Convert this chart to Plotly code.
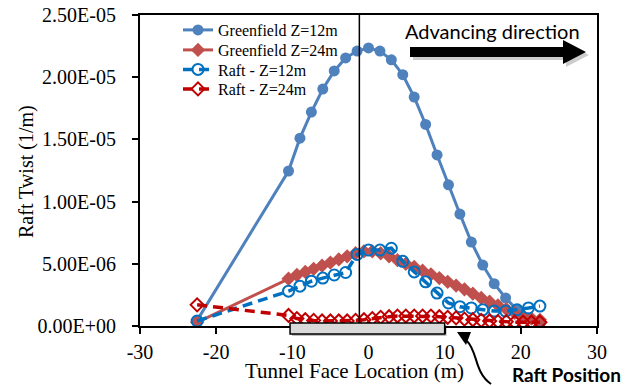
import plotly.graph_objects as go

# ---------------- data ----------------
gf12_x = [-22.5, -10.5, -9, -7.5, -6, -4.5, -3, -1.5, 0, 1.5, 3, 4.5, 6, 7.5, 9,
          10.5, 12, 13.5, 15, 16.5, 18, 19.5, 21, 22.5]
gf12_y = [0.45e-6, 12.46e-6, 15.1e-6, 17.2e-6, 19.05e-6, 20.5e-6, 21.55e-6, 22.1e-6,
          22.35e-6, 22.1e-6, 21.4e-6, 20.2e-6, 18.4e-6, 16.2e-6, 13.75e-6, 11.35e-6,
          9.0e-6, 6.75e-6, 4.9e-6, 3.4e-6, 2.25e-6, 1.3e-6, 0.65e-6, 0.15e-6]

gf24_x = [-22.5, -10.5, -9.4, -8.3, -7.2, -6.1, -5.0, -3.9, -2.8, -1.7, -0.6, 0.5,
          1.6, 2.7, 3.8, 4.9, 6.0, 7.1, 8.2, 9.3, 10.4, 11.5, 12.6, 13.7, 14.8, 15.9,
          17.0, 18.1, 19.2, 20.3, 21.4, 22.5]
gf24_y = [0.3e-6, 3.8e-6, 4.1e-6, 4.35e-6, 4.6e-6, 4.85e-6, 5.1e-6, 5.35e-6, 5.6e-6,
          5.85e-6, 6.0e-6, 6.0e-6, 5.85e-6, 5.6e-6, 5.3e-6, 5.0e-6, 4.75e-6, 4.45e-6,
          4.15e-6, 3.85e-6, 3.55e-6, 3.25e-6, 2.95e-6, 2.6e-6, 2.25e-6, 1.95e-6,
          1.65e-6, 1.35e-6, 1.05e-6, 0.8e-6, 0.6e-6, 0.5e-6]

raft12_x = [-22.5, -10.5, -9, -7.5, -6, -4.5, -3, -1.5, 0, 1.5, 3, 4.5, 6, 7.5, 9,
            10.5, 12, 13.5, 15, 16.5, 18, 19.5, 21, 22.5]
raft12_y = [0.4e-6, 2.8e-6, 3.2e-6, 3.6e-6, 3.85e-6, 4.1e-6, 4.3e-6, 5.75e-6, 6.1e-6,
            6.1e-6, 6.25e-6, 5.2e-6, 4.35e-6, 3.55e-6, 2.65e-6, 1.85e-6, 1.55e-6,
            1.45e-6, 1.3e-6, 1.2e-6, 1.2e-6, 1.3e-6, 1.45e-6, 1.6e-6]

raft24_x = [-22.5, -10.5, -9.4, -8.3, -7.2, -6.1, -5.0, -3.9, -2.8, -1.7, -0.6, 0.5,
            1.6, 2.7, 3.8, 4.9, 6.0, 7.1, 8.2, 9.3, 10.4, 11.5, 12.6, 13.7, 14.8, 15.9,
            17.0, 18.1, 19.2, 20.3, 21.4, 22.5]
raft24_y = [1.7e-6, 0.85e-6, 0.6e-6, 0.5e-6, 0.45e-6, 0.4e-6, 0.4e-6, 0.4e-6, 0.4e-6,
            0.45e-6, 0.5e-6, 0.6e-6, 0.7e-6, 0.75e-6, 0.8e-6, 0.8e-6, 0.8e-6, 0.8e-6,
            0.8e-6, 0.75e-6, 0.7e-6, 0.65e-6, 0.55e-6, 0.5e-6, 0.45e-6, 0.4e-6,
            0.35e-6, 0.35e-6, 0.3e-6, 0.3e-6, 0.3e-6, 0.3e-6]

series_names = ["Greenfield Z=12m", "Greenfield Z=24m", "Raft - Z=12m", "Raft - Z=24m"]

x_ticks = [-30, -20, -10, 0, 10, 20, 30]
x_tick_text = ["-30", "-20", "-10", "0", "10", "20", "30"]
y_ticks = [0, 5e-6, 1e-5, 1.5e-5, 2e-5, 2.5e-5]
y_tick_text = ["0.00E+00", "5.00E-06", "1.00E-05", "1.50E-05", "2.00E-05", "2.50E-05"]

face_line_x = -1.2          # vertical reference line
raft_span = [-10.3, 10.0]   # raft position bar (m)

# ---------------- layout geometry ----------------
W, H = 634, 386
L, R, T, B = 140, 37, 15, 60
PW, PH = W - L - R, H - T - B


def px(xp):
    return (xp - L) / PW


def py(yp):
    return (H - B - yp) / PH


SERIF = "Liberation Serif, Times New Roman, serif"
SANS = "Lato, Open Sans, sans-serif"

fig = go.Figure()
fig.add_trace(go.Scatter(
    x=gf12_x, y=gf12_y, name=series_names[0], mode="lines+markers", legend="legend",
    line=dict(color="#4F81BD", width=3),
    marker=dict(symbol="circle", size=11, color="#4F81BD")))
fig.add_trace(go.Scatter(
    x=gf24_x, y=gf24_y, name=series_names[1], mode="lines+markers", legend="legend2",
    line=dict(color="#C0504D", width=3),
    marker=dict(symbol="diamond", size=11, color="#C0504D")))
fig.add_trace(go.Scatter(
    x=raft12_x, y=raft12_y, name=series_names[2], mode="lines+markers", legend="legend3",
    line=dict(color="#0070C0", width=3.5, dash="10px,6px"),
    marker=dict(symbol="circle-open", size=11, color="#0070C0",
                line=dict(width=2, color="#0070C0"))))
fig.add_trace(go.Scatter(
    x=raft24_x, y=raft24_y, name=series_names[3], mode="lines+markers", legend="legend4",
    line=dict(color="#C00000", width=3.5, dash="10px,6px"),
    marker=dict(symbol="diamond-open", size=10, color="#C00000",
                line=dict(width=2, color="#C00000"))))

shapes = []
# vertical line at the tunnel face
shapes.append(dict(type="line", xref="x", yref="paper", x0=face_line_x, x1=face_line_x,
                   y0=0, y1=1, line=dict(color="black", width=1.5), layer="above"))

# raft position bar (shadow + bar)
rx0 = (raft_span[0] + 30) / 60
rx1 = (raft_span[1] + 30) / 60
shapes.append(dict(type="rect", xref="paper", yref="paper",
                   x0=rx0 + 2 / PW, x1=rx1 + 2 / PW, y0=py(336), y1=py(325),
                   fillcolor="rgba(0,0,0,0.25)", line=dict(width=0), layer="above"))
shapes.append(dict(type="rect", xref="paper", yref="paper",
                   x0=rx0, x1=rx1, y0=py(334), y1=py(323),
                   fillcolor="#D9D9D9", line=dict(color="black", width=1.5), layer="above"))


def path(pts):
    s = "M {:.4f},{:.4f}".format(px(pts[0][0]), py(pts[0][1]))
    for p in pts[1:]:
        s += " L {:.4f},{:.4f}".format(px(p[0]), py(p[1]))
    return s + " Z"


arrow_pts = [(410, 47), (563, 47), (563, 40), (586, 52), (563, 64), (563, 57), (410, 57)]
shadow_pts = [(x + 3, y + 3) for x, y in arrow_pts]
shapes.append(dict(type="path", xref="paper", yref="paper", path=path(shadow_pts),
                   fillcolor="rgba(0,0,0,0.2)", line=dict(width=0), layer="above"))
shapes.append(dict(type="path", xref="paper", yref="paper", path=path(arrow_pts),
                   fillcolor="black", line=dict(width=0), layer="above"))

# curved arrow pointing to the raft bar
curve = "M {:.4f},{:.4f} C {:.4f},{:.4f} {:.4f},{:.4f} {:.4f},{:.4f}".format(
    px(491), py(384), px(474), py(372), px(478), py(352), px(467), py(341))
shapes.append(dict(type="path", xref="paper", yref="paper", path=curve,
                   line=dict(color="black", width=2), layer="above"))
head = [(457, 332), (471, 332), (466, 345)]
shapes.append(dict(type="path", xref="paper", yref="paper", path=path(head),
                   fillcolor="black", line=dict(width=0), layer="above"))

annotations = [
    dict(text="Tunnel Face Location (m)", xref="paper", yref="paper",
         x=px(354), y=py(371), xanchor="center", yanchor="middle", showarrow=False,
         font=dict(family=SERIF, size=21, color="black")),
    dict(text="Raft Twist (1/m)", xref="paper", yref="paper",
         x=px(26), y=py(172), xanchor="center", yanchor="middle", showarrow=False,
         textangle=-90, font=dict(family=SERIF, size=20, color="black")),
    dict(text="Advancing direction", xref="paper", yref="paper",
         x=px(492), y=py(31), xanchor="center", yanchor="middle", showarrow=False,
         font=dict(family=SANS, size=20, color="black")),
    dict(text="<b>Raft Position</b>", xref="paper", yref="paper",
         x=px(566), y=py(374), xanchor="center", yanchor="middle", showarrow=False,
         font=dict(family=SANS, size=19, color="black")),
]


def legend_box(yc):
    return dict(x=px(178), y=py(yc), xanchor="left", yanchor="middle",
                bgcolor="rgba(0,0,0,0)", borderwidth=0, tracegroupgap=0,
                font=dict(family=SERIF, size=16, color="black"), itemwidth=30)


fig.update_layout(
    width=W, height=H,
    margin=dict(l=L, r=R, t=T, b=B, pad=0, autoexpand=False),
    paper_bgcolor="white", plot_bgcolor="white",
    showlegend=True,
    legend=legend_box(30),
    legend2=legend_box(50),
    legend3=legend_box(69.5),
    legend4=legend_box(89),
    xaxis=dict(range=[-30, 30], tickmode="array", tickvals=x_ticks, ticktext=x_tick_text,
               showgrid=False, zeroline=False, showline=True, mirror=True,
               automargin=False,
               linecolor="black", linewidth=2, ticks="outside", ticklen=6,
               tickwidth=1.5, tickcolor="black", ticklabelstandoff=1,
               tickfont=dict(family=SERIF, size=20, color="black")),
    yaxis=dict(range=[0, 2.5e-5], tickmode="array", tickvals=y_ticks,
               ticktext=y_tick_text, showgrid=False, zeroline=False,
               automargin=False,
               showline=True, mirror=True, linecolor="black", linewidth=2,
               ticks="outside", ticklen=6, tickwidth=1.5, tickcolor="black",
               ticklabelstandoff=12,
               tickfont=dict(family=SERIF, size=20, color="black")),
    shapes=shapes,
    annotations=annotations,
)

fig.write_html("out.html", config={"displayModeBar": False})
with open("out.html", "r", encoding="utf-8") as f:
    html = f.read()
html = html.replace("<head>", "<head><style>html,body{margin:0;padding:0;overflow:hidden;}</style>", 1)
with open("out.html", "w", encoding="utf-8") as f:
    f.write(html)
